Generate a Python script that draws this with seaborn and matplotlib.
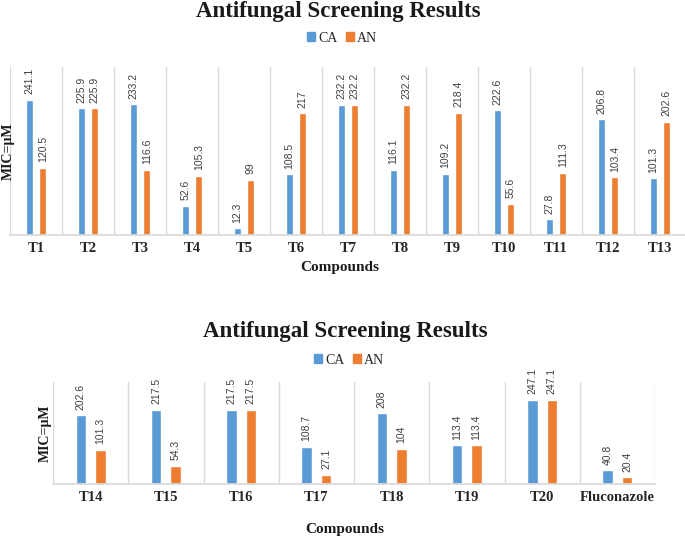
import matplotlib
matplotlib.use("Agg")
import matplotlib.pyplot as plt
import seaborn as sns
import pandas as pd
from matplotlib.patches import Patch
from matplotlib.ticker import FixedLocator

compounds_top = ["T1", "T2", "T3", "T4", "T5", "T6", "T7", "T8", "T9", "T10", "T11", "T12", "T13"]
ca_top = [241.1, 225.9, 233.2, 52.6, 12.3, 108.5, 232.2, 116.1, 109.2, 222.6, 27.8, 206.8, 101.3]
an_top = [120.5, 225.9, 116.6, 105.3, 99, 217, 232.2, 232.2, 218.4, 55.6, 111.3, 103.4, 202.6]

compounds_bot = ["T14", "T15", "T16", "T17", "T18", "T19", "T20", "Fluconazole"]
ca_bot = [202.6, 217.5, 217.5, 108.7, 208, 113.4, 247.1, 40.8]
an_bot = [101.3, 54.3, 217.5, 27.1, 104, 113.4, 247.1, 20.4]

series = ["CA", "AN"]
colors = ["#5B9BD5", "#ED7D31"]
title_text = "Antifungal Screening Results"
xlabel_text = "Compounds"
ylabel_text = "MIC=μM"

sns.set_theme(style="white")
plt.rcParams["font.family"] = ["Liberation Serif", "DejaVu Serif"]

W, H = 685, 539
fig = plt.figure(figsize=(W / 100, H / 100), dpi=100)


def fx(px):
    return px / W


def fy(py):
    return 1 - py / H


def make_panel(rect, cats, ca, an, title_xy, legend_xy, xlabel_xy, ylabel_x):
    ax = fig.add_axes(rect)
    df = pd.DataFrame({
        "Compound": cats * 2,
        "Series": [series[0]] * len(cats) + [series[1]] * len(cats),
        "MIC": list(ca) + list(an),
    })
    sns.barplot(data=df, x="Compound", y="MIC", hue="Series", palette=colors,
                width=0.52, gap=0.46, ax=ax, legend=False, saturation=1)
    for cont in ax.containers:
        ax.bar_label(cont, fmt="{:g}", rotation=90, padding=4, fontsize=7.5,
                     color="#404040", family="Liberation Sans")
    ax.set_ylim(0, 300)
    ax.set_xlim(-0.5, len(cats) - 0.5)
    ax.set_yticks([])
    ax.set_xlabel("")
    ax.set_ylabel("")
    for s in ["top", "right", "left"]:
        ax.spines[s].set_visible(False)
    ax.spines["bottom"].set_color("#D9D9D9")
    ax.xaxis.set_minor_locator(FixedLocator([i - 0.5 for i in range(len(cats) + 1)]))
    ax.grid(which="minor", axis="x", color="#D9D9D9", linewidth=1)
    ax.tick_params(axis="x", which="both", length=0, pad=5)
    for lbl in ax.get_xticklabels():
        lbl.set_fontweight("bold")
        lbl.set_fontsize(10.5)
        lbl.set_color("#262626")
    fig.text(fx(title_xy[0]), fy(title_xy[1]), title_text, ha="center", va="center",
             fontsize=16.5, fontweight="bold", color="#1a1a1a")
    handles = [Patch(color=c, label=s) for c, s in zip(colors, series)]
    fig.legend(handles=handles, loc="center", bbox_to_anchor=(fx(legend_xy[0]), fy(legend_xy[1])),
               ncol=2, frameon=False, fontsize=10, handlelength=0.6, handleheight=0.6,
               handletextpad=0.2, columnspacing=0.6, borderaxespad=0, borderpad=0)
    fig.text(fx(xlabel_xy[0]), fy(xlabel_xy[1]), xlabel_text, ha="center", va="center",
             fontsize=11, fontweight="bold", color="#1a1a1a")
    ax_mid = rect[1] + rect[3] / 2
    fig.text(fx(ylabel_x), ax_mid, ylabel_text, ha="center", va="center", rotation=90,
             fontsize=10, fontweight="bold", color="#1a1a1a")
    return ax


# top panel: plot area x 10..686, y 67..235
make_panel([fx(10), fy(235), (686 - 10) / W, (235 - 67) / H],
           compounds_top, ca_top, an_top,
           title_xy=(338, 11), legend_xy=(342, 38), xlabel_xy=(340, 268), ylabel_x=8)

# bottom panel: plot area x 53..655, y 382..484
make_panel([fx(53), fy(484), (655 - 53) / W, (484 - 382) / H],
           compounds_bot, ca_bot, an_bot,
           title_xy=(345, 331), legend_xy=(349, 360), xlabel_xy=(345, 530), ylabel_x=45)

fig.savefig("out.png", dpi=100)
